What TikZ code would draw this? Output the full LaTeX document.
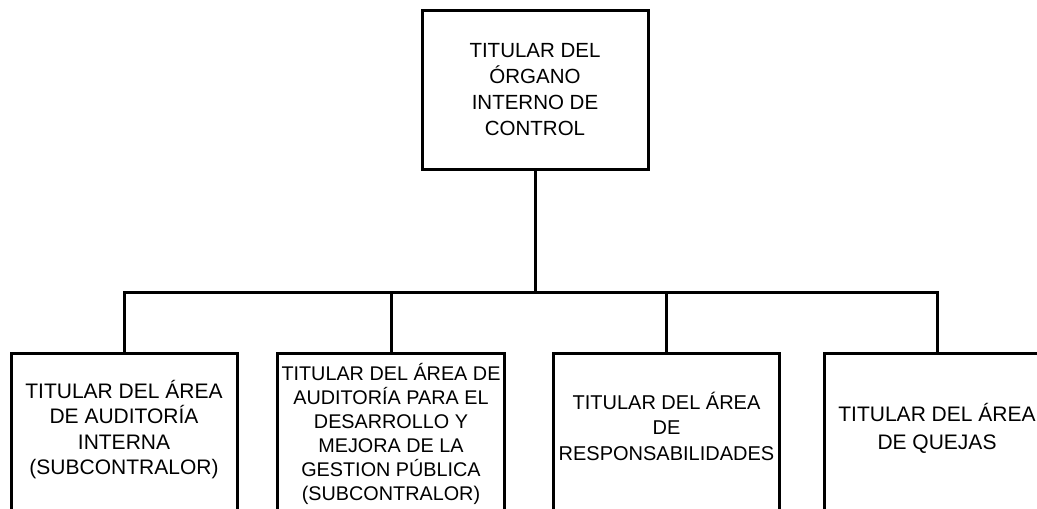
\documentclass[tikz,border=0pt]{standalone}
\usepackage{fontspec}
\setmainfont{Liberation Sans}
\usetikzlibrary{positioning}

\begin{document}
\begin{tikzpicture}[x=0.5pt,y=-0.5pt,
    cargo/.style={draw=black,line width=1.5pt,fill=white,align=center,
      minimum width=113pt,inner sep=2pt,font=\fontsize{10.25}{13}\selectfont},
    area/.style={cargo,minimum height=81pt,font=\fontsize{10.5}{12.75}\selectfont},
    linea/.style={draw=black,line width=1.5pt}]
  \useasboundingbox (0,0) rectangle (1037,508);
  \clip (0,0) rectangle (1037,508);
  \fill[white] (0,0) rectangle (1037,508);

  \node[cargo,minimum height=79pt] (oic) at (535,90)
    {TITULAR DEL\\ÓRGANO\\INTERNO DE\\CONTROL};

  \node[area,text depth=6.5pt] (auditoria) at (124,434)
    {TITULAR DEL ÁREA\\DE AUDITORÍA\\INTERNA\\(SUBCONTRALOR)};
  \node[area,font=\fontsize{9.9}{12}\selectfont] (gestion) at (391,434)
    {TITULAR DEL ÁREA DE\\AUDITORÍA PARA EL\\DESARROLLO Y\\MEJORA DE LA\\GESTION PÚBLICA\\(SUBCONTRALOR)};
  \node[area,text depth=8pt,font=\fontsize{10}{12.75}\selectfont] (responsab) at (666.5,434)
    {TITULAR DEL ÁREA\\DE\\RESPONSABILIDADES};
  \node[area,text depth=8pt,font=\fontsize{10.5}{14}\selectfont] (quejas) at (937,434)
    {TITULAR DEL ÁREA\\DE QUEJAS};

  \coordinate (bus) at (535,292);
  \draw[linea] (oic.south) -- (bus);
  \draw[linea] (auditoria.north) |- (bus) -| (quejas.north);
  \foreach \n in {gestion,responsab}{
    \draw[linea] (\n.north) -- (\n.north |- bus);
  }
\end{tikzpicture}
\end{document}
